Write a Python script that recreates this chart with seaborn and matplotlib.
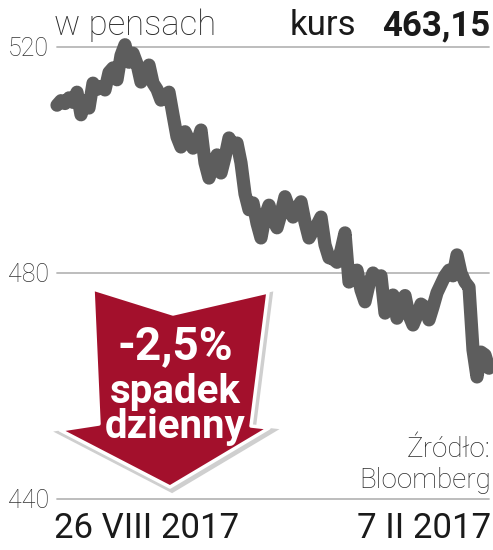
import matplotlib
matplotlib.use("Agg")
import matplotlib.pyplot as plt
import seaborn as sns
from matplotlib.patches import Polygon

# kurs w pensach, kolejne notowania
prices = [
    509.7, 510.5, 510.0, 511.0, 510.2, 512.0, 508.0, 510.5, 509.2, 513.6,
    512.5, 513.0, 512.4, 515.5, 516.3, 514.2, 518.5, 520.4, 517.3, 518.9,
    517.0, 513.8, 515.0, 516.8, 513.6, 512.5, 510.6, 511.5, 512.0, 508.0,
    504.1, 502.3, 505.0, 503.5, 502.1, 503.0, 505.3, 499.5, 496.8, 499.0,
    500.9, 497.7, 500.5, 503.9, 502.5, 503.0, 499.5, 494.0, 491.2, 492.4,
    488.8, 486.2, 490.0, 492.0, 489.5, 488.0, 490.5, 493.5, 491.5, 489.9,
    491.5, 492.6, 489.0, 486.2, 487.5, 488.5, 489.9, 485.0, 482.7, 482.5,
    481.9, 484.0, 487.1, 478.4, 479.5, 480.5, 477.0, 474.9, 478.0, 480.0,
    479.0, 479.5, 472.9, 474.5, 476.1, 472.0, 475.0, 476.0, 472.5, 470.8,
    472.5, 474.5, 474.0, 471.7, 474.0, 476.5, 478.0, 479.5, 480.5, 479.5,
    483.2, 480.0, 478.4, 477.5, 466.4, 461.6, 466.0, 465.5, 463.15,
]
days = list(range(len(prices)))
y_ticks = [440, 480, 520]
date_labels = ["26 VIII 2017", "7 II 2017"]
last_price = "463,15"
change_text = "-2,5%"

sns.set_style("white")
plt.rcParams["font.family"] = ["Roboto", "DejaVu Sans"]

W, H = 493, 550
fig = plt.figure(figsize=(W / 100, H / 100), dpi=100)
ax = fig.add_axes([57 / W, 1 - 499 / H, 432 / W, 452 / H])

for t in y_ticks:
    ax.axhline(t, color="#b8b8b8", lw=1.3, zorder=1)

sns.lineplot(x=days, y=prices, ax=ax, color="#5d5d5d", lw=9.5,
             solid_capstyle="round", solid_joinstyle="round", zorder=3)
for l in ax.lines:
    l.set_clip_on(False)

ax.set_xlim(0, len(prices) - 1)
ax.set_ylim(y_ticks[0], y_ticks[-1])
ax.set_yticks(y_ticks)
ax.set_yticklabels([str(t) for t in y_ticks], fontsize=18, fontweight="light", color="#333333")
ax.tick_params(axis="y", length=0, pad=6)
ax.set_xticks([])
ax.set_xlabel("")
ax.set_ylabel("")
sns.despine(ax=ax, left=True, bottom=True)
ax.patch.set_alpha(0)


def fx(x):
    return x / W


def fy(y):
    return 1 - y / H


# nagłówek
fig.text(fx(54), fy(35), "w pensach", fontsize=25, fontweight="light", color="#2a2a2a")
fig.text(fx(356), fy(35), "kurs", fontsize=25, ha="right", color="#1a1a1a")
fig.text(fx(490), fy(35), last_price, fontsize=25, fontweight="bold", ha="right", color="#1a1a1a")

# daty
fig.text(fx(54), fy(538), date_labels[0], fontsize=25, color="#1a1a1a")
fig.text(fx(491), fy(538), date_labels[1], fontsize=25, ha="right", color="#1a1a1a")

# źródło
fig.text(fx(491), fy(457), "Źródło:", fontsize=20, fontweight="light", ha="right", color="#2a2a2a")
fig.text(fx(491), fy(488), "Bloomberg", fontsize=20, fontweight="light", ha="right", color="#2a2a2a")

# strzałka
arrow_px = [(93, 289), (173, 314), (268, 292), (251, 426), (269, 428),
            (170, 487), (60, 430), (99, 424)]
shadow = Polygon([(fx(x + 2), fy(y + 3)) for x, y in arrow_px], closed=True,
                 transform=fig.transFigure, fc="#cfcfcf", ec="#cfcfcf", lw=4, zorder=4)
red = Polygon([(fx(x), fy(y)) for x, y in arrow_px], closed=True,
              transform=fig.transFigure, fc="#a3102c", ec="white", lw=2.5,
              joinstyle="round", zorder=5)
fig.add_artist(shadow)
fig.add_artist(red)
fig.text(fx(175), fy(346), change_text, fontsize=33, fontweight="bold", color="white",
         ha="center", va="center", zorder=6)
fig.text(fx(175), fy(392), "spadek", fontsize=29, fontweight="bold", color="white",
         ha="center", va="center", zorder=6)
fig.text(fx(175), fy(427), "dzienny", fontsize=29, fontweight="bold", color="white",
         ha="center", va="center", zorder=6)

fig.savefig("out.png", dpi=100)
